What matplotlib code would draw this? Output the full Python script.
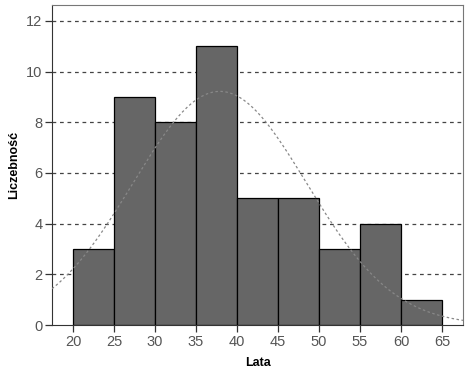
import numpy as np
import matplotlib.pyplot as plt

plt.rcParams['font.family'] = ['Liberation Sans', 'DejaVu Sans']

# histogram of ages (bin edges and counts)
bin_edges = [20, 25, 30, 35, 40, 45, 50, 55, 60, 65]
counts = [3, 9, 8, 11, 5, 5, 3, 4, 1]
yticks = [0, 2, 4, 6, 8, 10, 12]

# fitted normal curve parameters
mean_age = 37.9
sd_age = 10.6
n_total = sum(counts)
bin_width = 5

fig = plt.figure(figsize=(4.74, 3.85), dpi=100)
ax = fig.add_axes([0.1097, 0.1558, 0.8671, 0.8312])

ax.set_xlim(17.44, 67.56)
ax.set_ylim(0, 12.63)

for y in yticks[1:]:
    ax.axhline(y, color='#444444', lw=0.9, ls=(0, (3, 3)), zorder=1)

ax.bar(bin_edges[:-1], counts, width=bin_width, align='edge',
       color='#666666', edgecolor='black', linewidth=0.9, zorder=2)

xs = np.linspace(17.44, 67.56, 300)
curve = n_total * bin_width / (sd_age * np.sqrt(2 * np.pi)) * np.exp(-(xs - mean_age) ** 2 / (2 * sd_age ** 2))
ax.plot(xs, curve, color='#888888', lw=0.9, ls=(0, (2, 2)), zorder=3)

ax.set_xticks(bin_edges)
ax.set_yticks(yticks)
ax.tick_params(axis='both', direction='out', length=5, width=0.9, color='#333333',
               labelsize=10.5, labelcolor='#555555', pad=2)
for side in ['top', 'right']:
    ax.spines[side].set_color('#777777')
for side in ['left', 'bottom']:
    ax.spines[side].set_color('#333333')

ax.set_xlabel('Lata', fontsize=9, fontweight='bold', labelpad=6)
ax.set_ylabel('Liczebność', fontsize=9, fontweight='bold', labelpad=4)

fig.savefig('out.png', dpi=100)
